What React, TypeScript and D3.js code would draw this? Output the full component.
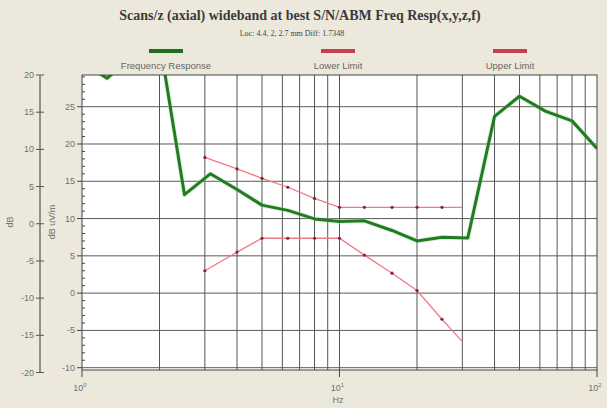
import React from "react";
import * as d3 from "d3";

const respFreq = [1, 1.25, 1.6, 2, 2.5, 3.15, 4, 5, 6.3, 8, 10, 12.5, 16, 20, 25, 31.5, 40, 50, 63, 80, 100];
const respVal = [31, 28.8, 32, 33.9, 13.2, 16.0, 13.9, 11.8, 11.1, 9.95, 9.6, 9.7, 8.4, 7.0, 7.5, 7.4, 23.7, 26.4, 24.4, 23.1, 19.4];

const limFreq = [3, 4, 5, 6.3, 8, 10, 12.5, 16, 20, 25, 30];
const upperVal = [18.2, 16.65, 15.4, 14.2, 12.7, 11.5, 11.5, 11.5, 11.5, 11.5, 11.5];
const lowerVal = [3.0, 5.5, 7.36, 7.36, 7.36, 7.36, 5.1, 2.67, 0.35, -3.5, -6.5];

const innerTicks = [25, 20, 15, 10, 5, 0, -5, -10];
const outerTicks = [20, 15, 10, 5, 0, -5, -10, -15, -20];
const xGrid = [2, 3, 4, 5, 6, 7, 8, 9, 10, 20, 30, 40, 50, 60, 70, 80, 90];
const xMajor = [1, 10, 100];
const xMajorExp = ["0", "1", "2"];

const titleText = "Scans/z (axial) wideband at best S/N/ABM Freq Resp(x,y,z,f)";
const subtitleText = "Loc: 4.4, 2, 2.7 mm Diff: 1.7348";
const legendNames = ["Frequency Response", "Lower Limit", "Upper Limit"];

export default function App() {
  const W = 607, H = 408;
  const left = 82, right = 597, top = 75, bottom = 370;
  const x = d3.scaleLog().domain([1, 100]).range([left, right]);
  const y = d3.scaleLinear().domain([-10, 25]).range([367.7, 106.7]);
  const yOuter = d3.scaleLinear().domain([-20, 20]).range([372.5, 75]);

  const line = d3.line<[number, number]>().x(d => x(d[0])).y(d => y(d[1]));
  const resp = respFreq.map((f, i) => [f, respVal[i]] as [number, number]);
  const upper = limFreq.map((f, i) => [f, upperVal[i]] as [number, number]);
  const lower = limFreq.map((f, i) => [f, lowerVal[i]] as [number, number]);

  const minorTicks = d3.range(-10, 30, 1).filter(v => v % 5 !== 0 && y(v) > top);

  const tickFont = { fontFamily: "Liberation Sans, Arial, sans-serif", fontSize: 9, fill: "#707070" };
  const legendX = [166, 338, 510];
  const legendColor = ["#1f6e1f", "#c8404c", "#c8404c"];

  return (
    <svg width={W} height={H} style={{ position: "absolute", left: 0, top: 0 }}>
      <defs>
        <clipPath id="plotClip">
          <rect x={left} y={top} width={right - left} height={bottom - top} />
        </clipPath>
      </defs>
      <rect x={0} y={0} width={W} height={H} fill="#ece9dc" />
      <text x={300} y={20} textAnchor="middle" fontFamily="Liberation Serif, Times New Roman, serif" fontWeight="bold" fontSize={14} fill="#3a3a3a">{titleText}</text>
      <text x={292} y={36} textAnchor="middle" fontFamily="Liberation Serif, Times New Roman, serif" fontSize={8} fill="#444">{subtitleText}</text>

      {legendNames.map((n, i) => (
        <g key={n}>
          <rect x={legendX[i] - 17} y={49} width={34} height={4} fill={legendColor[i]} />
          <text x={legendX[i]} y={69} textAnchor="middle" {...tickFont} fontSize={9.5} fill="#666">{n}</text>
        </g>
      ))}

      <rect x={left} y={top} width={right - left} height={bottom - top} fill="#fff" />

      {innerTicks.map(v => (
        <line key={"h" + v} x1={left} x2={right} y1={y(v)} y2={y(v)} stroke="#5a5a5a" strokeWidth={1} />
      ))}
      {xGrid.map(f => (
        <line key={"v" + f} x1={x(f)} x2={x(f)} y1={top} y2={bottom} stroke="#555" strokeWidth={1} />
      ))}

      <g clipPath="url(#plotClip)">
        <path d={line(upper) || ""} fill="none" stroke="#f07a88" strokeWidth={1.3} />
        <path d={line(lower) || ""} fill="none" stroke="#f07a88" strokeWidth={1.3} />
        {upper.slice(0, -1).map((d, i) => (
          <circle key={"u" + i} cx={x(d[0])} cy={y(d[1])} r={1.6} fill="#8a2030" />
        ))}
        {lower.slice(0, -1).map((d, i) => (
          <circle key={"l" + i} cx={x(d[0])} cy={y(d[1])} r={1.6} fill="#8a2030" />
        ))}
        <path d={line(resp) || ""} fill="none" stroke="#9fe09f" strokeWidth={5} strokeOpacity={0.35} strokeLinejoin="round" />
        <path d={line(resp) || ""} fill="none" stroke="#237a23" strokeWidth={3} strokeLinejoin="round" />
      </g>

      <rect x={left} y={top} width={right - left} height={bottom - top} fill="none" stroke="#444" strokeWidth={1} />

      {innerTicks.map(v => (
        <g key={"it" + v}>
          <line x1={left - 5} x2={left} y1={y(v)} y2={y(v)} stroke="#444" />
          <text x={left - 7} y={y(v) + 3} textAnchor="end" {...tickFont}>{v}</text>
        </g>
      ))}
      {minorTicks.map(v => (
        <line key={"mt" + v} x1={left} x2={left + 3} y1={y(v)} y2={y(v)} stroke="#444" />
      ))}

      <line x1={40} x2={40} y1={yOuter(20)} y2={yOuter(-20)} stroke="#555" strokeWidth={1.2} />
      {outerTicks.map(v => (
        <g key={"ot" + v}>
          <line x1={36} x2={44} y1={yOuter(v)} y2={yOuter(v)} stroke="#555" />
          <text x={34} y={yOuter(v) + 3} textAnchor="end" {...tickFont}>{v}</text>
        </g>
      ))}

      {xMajor.map((f, i) => (
        <g key={"xt" + f}>
          <line x1={x(f)} x2={x(f)} y1={bottom} y2={bottom + 7} stroke="#444" />
          <text x={x(f) - 2} y={391} textAnchor="middle" {...tickFont}>
            10<tspan fontSize={6} dy={-4}>{xMajorExp[i]}</tspan>
          </text>
        </g>
      ))}
      <text x={338} y={403} textAnchor="middle" {...tickFont}>Hz</text>
      <text transform="translate(13,222) rotate(-90)" textAnchor="middle" {...tickFont}>dB</text>
      <text transform="translate(55,222) rotate(-90)" textAnchor="middle" {...tickFont}>dB uV/m</text>
    </svg>
  );
}
